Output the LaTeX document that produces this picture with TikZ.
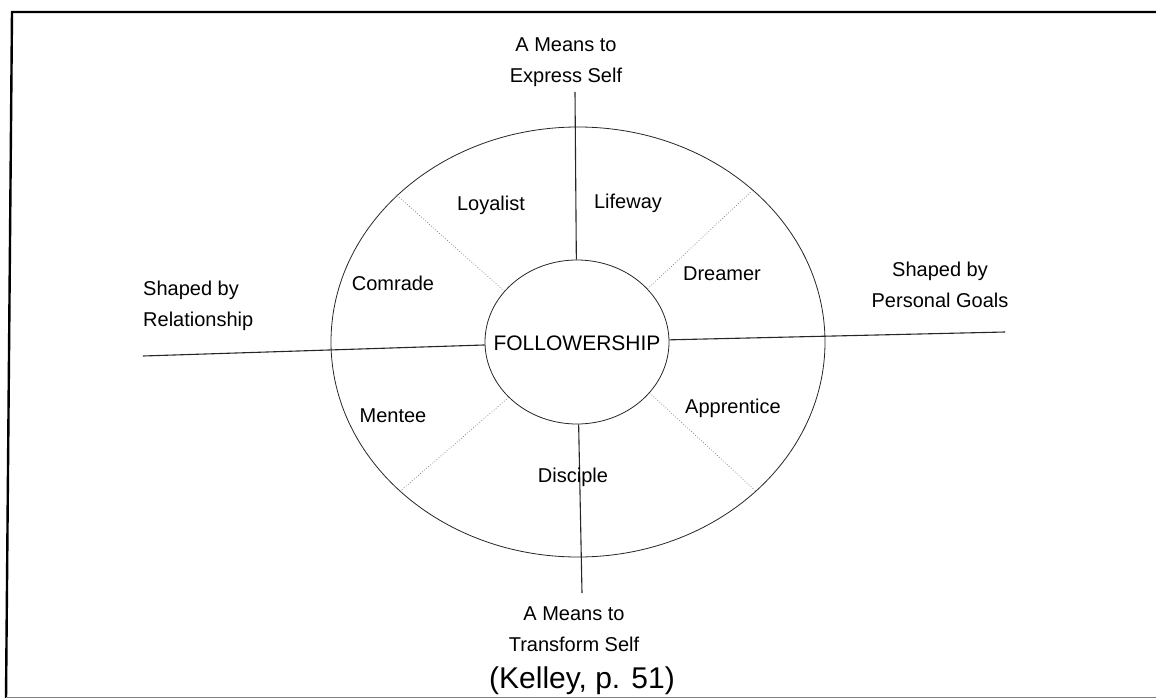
\documentclass[tikz,border=0pt]{standalone}
\usepackage{fontspec}
\setmainfont{Liberation Sans}
\usetikzlibrary{shapes.geometric}
\begin{document}
\begin{tikzpicture}[x=1pt,y=-1pt,
  lbl/.style={font=\fontsize{20}{24}\selectfont, inner sep=0pt, align=center},
  axis/.style={line width=1.1pt, black!85},
  sector/.style={line width=0.7pt, black!55, dotted},
  ring/.style={draw, ellipse, line width=0.8pt, inner sep=0pt, black!85}
]
\useasboundingbox (0,0) rectangle (1156,698);
% page frame
\draw[line width=2.4pt] (1160,12) -- (12,12) -- (6,700);
\draw[line width=0.8pt, black!50] (6,697) -- (1160,697);

% the two rings
\node[ring, minimum width=494pt, minimum height=430pt] (outer) at (578,342) {};
\node[ring, minimum width=184pt, minimum height=164pt] (core) at (577,342) {};
\node[lbl, font=\fontsize{21}{25}\selectfont] (fship) at (577,343) {FOLLOWERSHIP};

% axis ends
\coordinate (topend) at (575,92);
\coordinate (botend) at (582,593);
\coordinate (leftend) at (143,356);
\coordinate (rightend) at (1005,332);

\draw[axis] (topend) -- (core);
\draw[axis] (botend) -- (core);
\draw[axis] (leftend) -- (core);
\draw[axis] (rightend) -- (core);

% dotted sector dividers
\draw[sector] (core.145) -- (outer.141);
\draw[sector] (core.37) -- (outer.41);
\draw[sector] (core.219) -- (outer.220.5);
\draw[sector] (core.325) -- (outer.320.7);

% sector names
\node[lbl] (loyalist) at (491,205) {Loyalist};
\node[lbl] (lifeway) at (628,203) {Lifeway};
\node[lbl] (comrade) at (393,283) {Comrade};
\node[lbl] (dreamer) at (722,274) {Dreamer};
\node[lbl] (mentee) at (393,416) {Mentee};
\node[lbl] (apprentice) at (733,408) {Apprentice};
\node[lbl] (disciple) at (573,477) {Disciple};

% axis captions
\node[lbl] (topcap) at (566,62) {A Means to\\[7pt]Express Self};
\node[lbl] (botcap) at (574,629) {A Means to\\[7pt]Transform Self};
\node[lbl, align=left, anchor=west] (leftcap) at (143,306) {Shaped by\\[7pt]Relationship};
\node[lbl] (rightcap) at (940,285) {Shaped by\\[7pt]Personal Goals};
\node[inner sep=0pt, font=\fontsize{30}{36}\selectfont] (source) at (582,681) {(Kelley, p. 51)};
\end{tikzpicture}
\end{document}
